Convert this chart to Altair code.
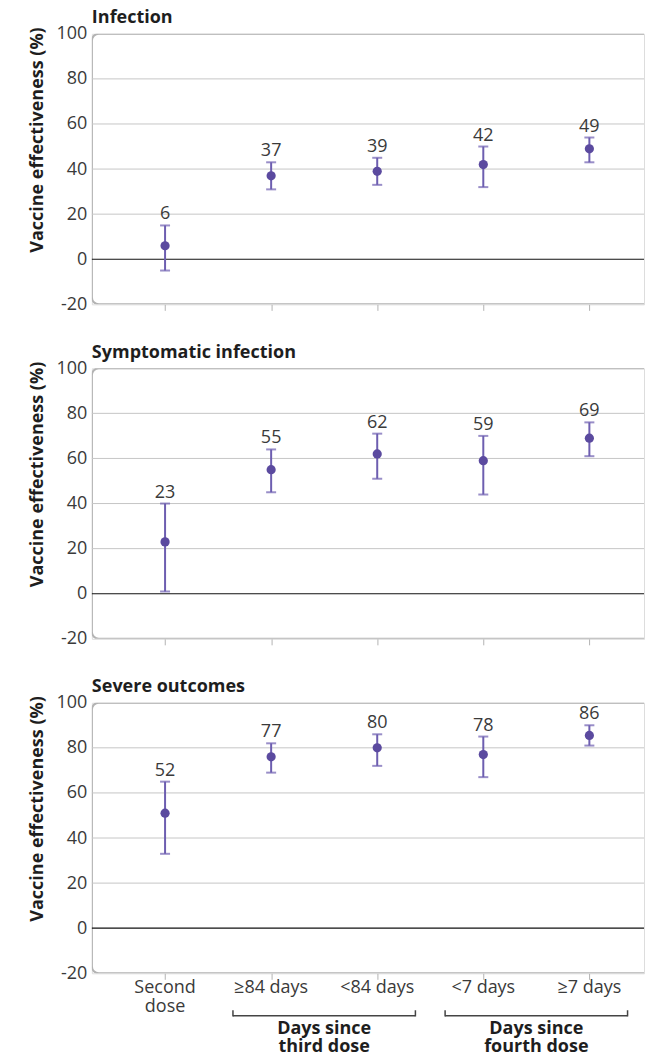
import altair as alt
import pandas as pd

# ---------------- data ----------------
categories = ["Second dose", "≥84 days", "<84 days", "<7 days", "≥7 days"]
tick_labels = ["Second\ndose", "≥84 days", "<84 days", "<7 days", "≥7 days"]
panel_titles = ["Infection", "Symptomatic infection", "Severe outcomes"]

infection_est = [6, 37, 39, 42, 49]
infection_lo = [-5, 31, 33, 32, 43]
infection_hi = [15, 43, 45, 50, 54]
infection_lab = [6, 37, 39, 42, 49]

symptomatic_est = [23, 55, 62, 59, 69]
symptomatic_lo = [1, 45, 51, 44, 61]
symptomatic_hi = [40, 64, 71, 70, 76]
symptomatic_lab = [23, 55, 62, 59, 69]

severe_est = [51, 76, 80, 77, 85.5]
severe_lo = [33, 69, 72, 67, 81]
severe_hi = [65, 82, 86, 85, 90]
severe_lab = [52, 77, 80, 78, 86]

y_ticks = [-20, 0, 20, 40, 60, 80, 100]
grid_values = [20, 40, 60, 80]
group_labels = ["Days since\nthird dose", "Days since\nfourth dose"]
group_members = [[1, 2], [3, 4]]

# ---------------- style ----------------
W, H = 553, 271
XDOM = [-0.69, 4.515]
YDOM = [-20, 100]
FONT = "Open Sans"
TXT = "#3a3a3a"
DARK = "#1e1e1e"
PURPLE = "#5b4a9f"
BARC = "#6d5eb0"
GRID = "#c6c6c6"

xs = alt.Scale(domain=XDOM, nice=False, zero=False)
ys = alt.Scale(domain=YDOM, nice=False, zero=False)
xaxis = alt.Axis(values=[0, 1, 2, 3, 4], labels=False, ticks=True,
                 tickSize=6, tickColor="#b3b3b3", tickWidth=1,
                 domain=False, grid=False, title=None)
yaxis = alt.Axis(values=y_ticks, grid=False, domain=False, ticks=False,
                 labelFontSize=18, labelColor=TXT, labelFont=FONT,
                 labelExpr="datum.value + ''",
                 labelPadding=5, title="Vaccine effectiveness (%)",
                 titleFont=FONT, titleFontSize=18, titleFontWeight="bold",
                 titleColor=DARK, titlePadding=10, titleY=-7, titleAlign="right")


def X(field):
    return alt.X(field, scale=xs, axis=xaxis)


def Y(field):
    return alt.Y(field, scale=ys, axis=yaxis)


def panel(title, est, lo, hi, lab, bottom):
    df = pd.DataFrame({"idx": list(range(len(categories))), "cat": categories,
                       "tick": tick_labels, "est": est, "lo": lo, "hi": hi,
                       "lab": [str(v) for v in lab]})
    one = pd.DataFrame({"t": [title]})

    frame = alt.Chart(one).mark_rect(clip=True, cornerRadius=7, fillOpacity=0,
                                     stroke="#b3b3b3", strokeWidth=2).encode(
        x=alt.value(0), x2=alt.value(W + 40), y=alt.value(0), y2=alt.value(H))

    grid = alt.Chart(pd.DataFrame({"g": grid_values})).mark_rule(
        color=GRID, strokeWidth=1).encode(y=Y("g:Q"))

    zero = alt.Chart(pd.DataFrame({"z": [0]})).mark_rule(
        color="#111111", strokeWidth=1.2).encode(y=Y("z:Q"))

    base = alt.Chart(df)
    bars = base.mark_rule(color=BARC, strokeWidth=2).encode(
        x=X("idx:Q"), y=Y("lo:Q"), y2="hi:Q")
    cap_lo = base.mark_tick(color=BARC, orient="horizontal", size=10, thickness=2).encode(
        x=X("idx:Q"), y=Y("lo:Q"))
    cap_hi = base.mark_tick(color=BARC, orient="horizontal", size=10, thickness=2).encode(
        x=X("idx:Q"), y=Y("hi:Q"))
    pts = base.mark_circle(color=PURPLE, opacity=1, size=85).encode(
        x=X("idx:Q"), y=Y("est:Q"))
    labels = base.mark_text(font=FONT, fontSize=18, color=TXT, baseline="alphabetic",
                            dy=-6).encode(x=X("idx:Q"), y=Y("hi:Q"), text="lab:N")
    ttl = alt.Chart(one).mark_text(font=FONT, fontSize=18, fontWeight="bold", color=DARK,
                                   align="left", baseline="alphabetic").encode(
        x=alt.value(0), y=alt.value(-10.5), text="t:N")

    layers = [frame, grid, zero, bars, cap_lo, cap_hi, pts, labels, ttl]

    if bottom:
        xl = base.mark_text(font=FONT, fontSize=18, color=TXT, baseline="alphabetic",
                            lineBreak="\n", lineHeight=19).encode(
            x=X("idx:Q"), y=alt.value(H + 20), text="tick:N")
        gdf = pd.DataFrame({
            "s": [min(m) - 0.36 for m in group_members],
            "e": [max(m) + 0.36 for m in group_members],
            "mid": [(min(m) + max(m)) / 2 for m in group_members],
            "label": group_labels})
        edf = pd.DataFrame({"xe": list(gdf["s"]) + list(gdf["e"])})
        hbr = alt.Chart(gdf).mark_rule(color="#444444", strokeWidth=1.5).encode(
            x=X("s:Q"), x2="e:Q", y=alt.value(H + 42.5))
        ebr = alt.Chart(edf).mark_rule(color="#444444", strokeWidth=1.5).encode(
            x=X("xe:Q"), y=alt.value(H + 37), y2=alt.value(H + 43.2))
        gtx = alt.Chart(gdf).mark_text(font=FONT, fontSize=18, fontWeight="bold", color=DARK,
                                       baseline="alphabetic", lineBreak="\n",
                                       lineHeight=18).encode(
            x=X("mid:Q"), y=alt.value(H + 60.5), text="label:N")
        layers += [xl, hbr, ebr, gtx]

    return alt.layer(*layers).properties(width=W, height=H)


p1 = panel(panel_titles[0], infection_est, infection_lo, infection_hi, infection_lab, False)
p2 = panel(panel_titles[1], symptomatic_est, symptomatic_lo, symptomatic_hi, symptomatic_lab, False)
p3 = panel(panel_titles[2], severe_est, severe_lo, severe_hi, severe_lab, True)

chart = alt.vconcat(p1, p2, p3, spacing=29).properties(
    padding={"left": 19, "top": 0, "right": 0, "bottom": -2}
).configure_view(stroke=None).configure(background="white")

chart.save("out.html", embed_options={"renderer": "svg", "actions": False})
